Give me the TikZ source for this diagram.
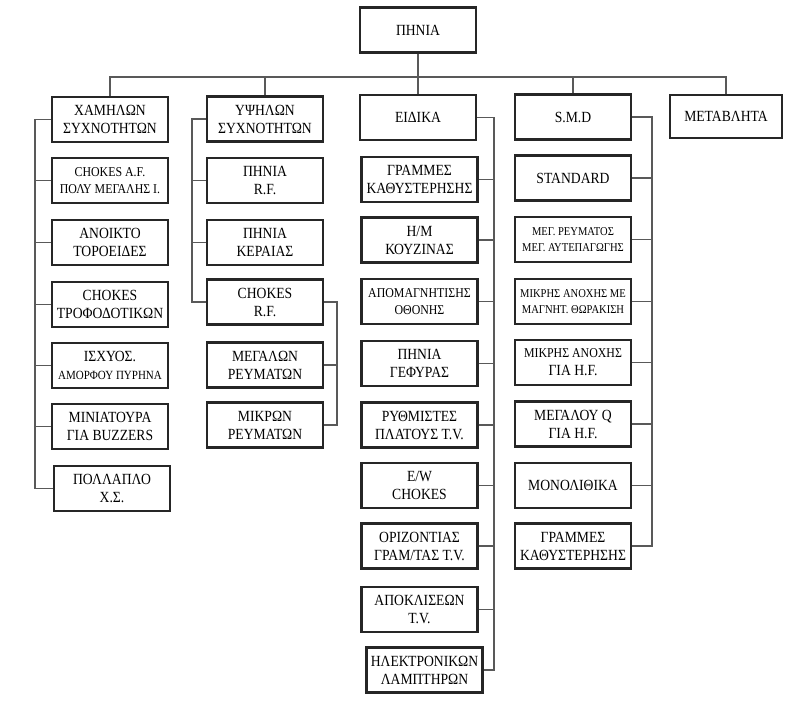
\documentclass[tikz,border=0pt]{standalone}
\usepackage{fontspec}
\setmainfont{Liberation Serif}[FakeStretch=0.88]
\begin{document}
\begin{tikzpicture}[x=1pt, y=-1pt,
        box/.style={draw=black!85, line width=2.2pt, fill=white, align=center, minimum width=116pt, minimum height=45pt, inner sep=1pt, font=\fontsize{15.5}{18}\selectfont},
        smallbox/.style={box, font=\fontsize{13.5}{17}\selectfont},
        tinybox/.style={box, font=\fontsize{12}{16}\selectfont},
        link/.style={draw=black!65, line width=1.3pt}
    ]
    \useasboundingbox (0,0) rectangle (797,706);

    \node[box] (root) at (418, 30) {ΠΗΝΙΑ};

    % first column
    \node[box] (xam)  at (110, 119.5) {ΧΑΜΗΛΩΝ\\ΣΥΧΝΟΤΗΤΩΝ};
    \node[smallbox] (chaf) at (110, 180.5) {CHOKES A.F.\\ΠΟΛΥ ΜΕΓΑΛΗΣ Ι.};
    \node[box] (anoi) at (110, 242.5) {ΑΝΟΙΚΤΟ\\ΤΟΡΟΕΙΔΕΣ};
    \node[box] (chtr) at (110, 304.5) {CHOKES\\ΤΡΟΦΟΔΟΤΙΚΩΝ};
    \node[box] (isx)  at (110, 365.5) {ΙΣΧΥΟΣ.\\{\fontsize{12.5}{16}\selectfont ΑΜΟΡΦΟΥ ΠΥΡΗΝΑ}};
    \node[box] (mini) at (110, 426.5) {ΜΙΝΙΑΤΟΥΡΑ\\ΓΙΑ BUZZERS};
    \node[box] (pol)  at (112, 488.5) {ΠΟΛΛΑΠΛΟ\\Χ.Σ.};

    % second column
    \node[box] (yps)  at (265, 119) {ΥΨΗΛΩΝ\\ΣΥΧΝΟΤΗΤΩΝ};
    \node[box] (prf)  at (265, 180.5) {ΠΗΝΙΑ\\R.F.};
    \node[box] (pker) at (265, 242.5) {ΠΗΝΙΑ\\ΚΕΡΑΙΑΣ};
    \node[box] (chrf) at (265, 302) {CHOKES\\R.F.};
    \node[box] (megr) at (265, 365) {ΜΕΓΑΛΩΝ\\ΡΕΥΜΑΤΩΝ};
    \node[box] (mikr) at (265, 425) {ΜΙΚΡΩΝ\\ΡΕΥΜΑΤΩΝ};

    % third column
    \node[box] (eid)  at (418, 117.5) {ΕΙΔΙΚΑ};
    \node[box] (gram) at (419.5, 179.5) {ΓΡΑΜΜΕΣ\\ΚΑΘΥΣΤΕΡΗΣΗΣ};
    \node[box] (hm)   at (419.5, 240) {Η/Μ\\ΚΟΥΖΙΝΑΣ};
    \node[smallbox] (apom) at (419.5, 301.5) {ΑΠΟΜΑΓΝΗΤΙΣΗΣ\\ΟΘΟΝΗΣ};
    \node[box] (pgef) at (419.5, 363.5) {ΠΗΝΙΑ\\ΓΕΦΥΡΑΣ};
    \node[box] (ryth) at (419.5, 425) {ΡΥΘΜΙΣΤΕΣ\\ΠΛΑΤΟΥΣ Τ.V.};
    \node[box] (ew)   at (419.5, 485.5) {E/W\\CHOKES};
    \node[box] (oriz) at (419.5, 546) {ΟΡΙΖΟΝΤΙΑΣ\\ΓΡΑΜ/ΤΑΣ Τ.V.};
    \node[box] (apok) at (419.5, 609.5) {ΑΠΟΚΛΙΣΕΩΝ\\Τ.V.};
    \node[box] (ilek) at (424.5, 670) {ΗΛΕΚΤΡΟΝΙΚΩΝ\\ΛΑΜΠΤΗΡΩΝ};

    % fourth column
    \node[box] (smd)  at (573, 117) {S.M.D};
    \node[box] (stan) at (573, 178) {STANDARD};
    \node[tinybox] (megre) at (573, 239.5) {ΜΕΓ. ΡΕΥΜΑΤΟΣ\\ΜΕΓ. ΑΥΤΕΠΑΓΩΓΗΣ};
    \node[tinybox] (mikm) at (573, 301.5) {ΜΙΚΡΗΣ ΑΝΟΧΗΣ ΜΕ\\ΜΑΓΝΗΤ. ΘΩΡΑΚΙΣΗ};
    \node[box] (mikh) at (573, 362.5) {{\fontsize{13.5}{17}\selectfont ΜΙΚΡΗΣ ΑΝΟΧΗΣ}\\ΓΙΑ Η.F.};
    \node[box] (megq) at (573, 424) {ΜΕΓΑΛΟΥ Q\\ΓΙΑ Η.F.};
    \node[box] (mono) at (573, 485.5) {ΜΟΝΟΛΙΘΙΚΑ};
    \node[box] (gram2) at (573, 546) {ΓΡΑΜΜΕΣ\\ΚΑΘΥΣΤΕΡΗΣΗΣ};

    % fifth column
    \node[box, minimum width=112pt, minimum height=43pt] (met) at (726, 116.5) {ΜΕΤΑΒΛΗΤΑ};

    \coordinate (bus) at (0, 77);
    \coordinate (t1)  at (35, 0);
    \coordinate (t2)  at (192, 0);
    \coordinate (t2b) at (337, 0);
    \coordinate (t3)  at (494, 0);
    \coordinate (t4)  at (652, 0);

    % top level
    \draw[link] (root) -- (eid);
    \draw[link] (xam.north) -- (xam.north |- bus) -| (met.north);
    \foreach \n in {yps, smd} \draw[link] (\n.north) -- (\n.north |- bus);

    % trunks
    \draw[link] (xam.west) -- (xam.west -| t1) |- (pol.west);
    \foreach \n in {chaf, anoi, chtr, isx, mini} \draw[link] (\n.west) -- (\n.west -| t1);

    \draw[link] (yps.west) -- (yps.west -| t2) |- (chrf.west);
    \foreach \n in {prf, pker} \draw[link] (\n.west) -- (\n.west -| t2);
    \draw[link] (chrf.east) -- (chrf.east -| t2b) |- (mikr.east);
    \draw[link] (megr.east) -- (megr.east -| t2b);

    \draw[link] (eid.east) -- (eid.east -| t3) |- (ilek.east);
    \foreach \n in {gram, hm, apom, pgef, ryth, ew, oriz, apok} \draw[link] (\n.east) -- (\n.east -| t3);

    \draw[link] (smd.east) -- (smd.east -| t4) |- (gram2.east);
    \foreach \n in {stan, megre, mikm, mikh, megq, mono} \draw[link] (\n.east) -- (\n.east -| t4);
\end{tikzpicture}
\end{document}
